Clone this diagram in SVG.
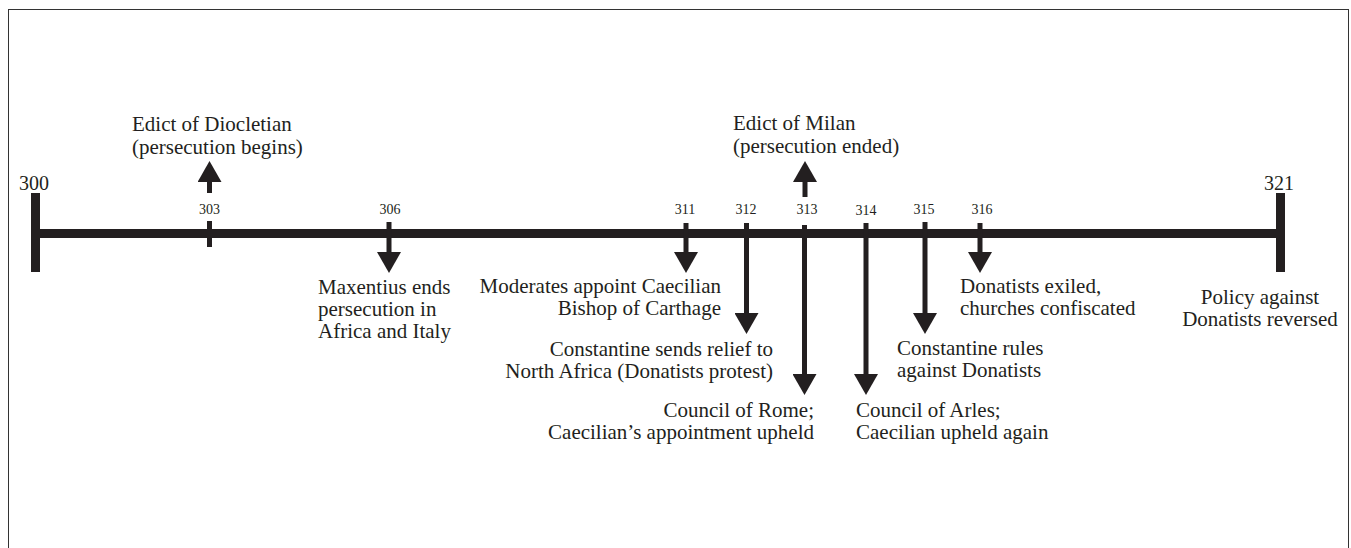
<svg xmlns="http://www.w3.org/2000/svg" width="1351" height="548" viewBox="0 0 1351 548">
<style>
  text { font-family: "Liberation Serif", "Times New Roman", serif; fill: #231f20; }
  .lbl { font-size: 21px; }
  .yr { font-size: 14px; text-anchor: middle; }
  .big { font-size: 20px; }
  .end { text-anchor: end; }
  .mid { text-anchor: middle; }
  .shaft { stroke: #231f20; stroke-width: 5; fill: none; }
  .bar { stroke: #231f20; stroke-width: 9; fill: none; }
</style>
<defs>
  <marker id="ah" viewBox="0 0 21 24" markerUnits="userSpaceOnUse" markerWidth="21" markerHeight="24" refX="0" refY="12" orient="auto">
    <path d="M0,0 L21,12 L0,24 z" fill="#231f20"/>
  </marker>
</defs>
<rect x="8.5" y="9.5" width="1340" height="560" fill="#fff" stroke="#333" stroke-width="1"/>

<g font-family="Liberation Serif, Times New Roman, serif">
<g id="timeline">
  <line class="bar" x1="35" y1="233.5" x2="1280" y2="233.5"/>
  <line class="bar" x1="35.5" y1="193" x2="35.5" y2="272"/>
  <line class="bar" x1="1280.5" y1="193" x2="1280.5" y2="272"/>
  <text class="big" x="19" y="190">300</text>
  <text class="big mid" x="1279" y="190">321</text>
</g>

<g id="connectors">
  <line class="shaft" x1="209.5" y1="221" x2="209.5" y2="247"/>
  <line class="shaft" x1="209.5" y1="193" x2="209.5" y2="182" marker-end="url(#ah)"/>
  <line class="shaft" x1="389" y1="222" x2="389" y2="252" marker-end="url(#ah)"/>
  <line class="shaft" x1="686" y1="223" x2="686" y2="252" marker-end="url(#ah)"/>
  <line class="shaft" x1="746.5" y1="223" x2="746.5" y2="313" marker-end="url(#ah)"/>
  <line class="shaft" x1="805" y1="197" x2="805" y2="182" marker-end="url(#ah)"/>
  <line class="shaft" x1="804.5" y1="225" x2="804.5" y2="374" marker-end="url(#ah)"/>
  <line class="shaft" x1="866" y1="223" x2="866" y2="374" marker-end="url(#ah)"/>
  <line class="shaft" x1="925" y1="222" x2="925" y2="313" marker-end="url(#ah)"/>
  <line class="shaft" x1="980" y1="223" x2="980" y2="252" marker-end="url(#ah)"/>
</g>

<g id="years">
  <text class="yr" x="209.5" y="214">303</text>
  <text class="yr" x="390" y="214">306</text>
  <text class="yr" x="685" y="214">311</text>
  <text class="yr" x="746" y="214">312</text>
  <text class="yr" x="807" y="214">313</text>
  <text class="yr" x="866" y="215">314</text>
  <text class="yr" x="924" y="214">315</text>
  <text class="yr" x="982" y="214">316</text>
</g>

<g id="e303">
  <text class="lbl" x="132" y="131">Edict of Diocletian</text>
  <text class="lbl" x="132" y="154">(persecution begins)</text>
</g>
<g id="e306">
  <text class="lbl" x="318" y="293.5">Maxentius ends</text>
  <text class="lbl" x="318" y="315.5">persecution in</text>
  <text class="lbl" x="318" y="337.5">Africa and Italy</text>
</g>
<g id="e311">
  <text class="lbl end" x="721" y="293">Moderates appoint Caecilian</text>
  <text class="lbl end" x="721" y="315">Bishop of Carthage</text>
</g>
<g id="e312">
  <text class="lbl end" x="773" y="355.5">Constantine sends relief to</text>
  <text class="lbl end" x="773" y="377.5">North Africa (Donatists protest)</text>
</g>
<g id="e313a">
  <text class="lbl" x="733" y="130">Edict of Milan</text>
  <text class="lbl" x="733" y="153">(persecution ended)</text>
</g>
<g id="e313b">
  <text class="lbl end" x="814" y="417">Council of Rome;</text>
  <text class="lbl end" x="814" y="439">Caecilian’s appointment upheld</text>
</g>
<g id="e314">
  <text class="lbl" x="856" y="417">Council of Arles;</text>
  <text class="lbl" x="856" y="439">Caecilian upheld again</text>
</g>
<g id="e315">
  <text class="lbl" x="897" y="354.5">Constantine rules</text>
  <text class="lbl" x="897" y="376.5">against Donatists</text>
</g>
<g id="e316">
  <text class="lbl" x="960" y="293">Donatists exiled,</text>
  <text class="lbl" x="960" y="315">churches confiscated</text>
</g>
<g id="e321">
  <text class="lbl mid" x="1260" y="303.5">Policy against</text>
  <text class="lbl mid" x="1260" y="325.5">Donatists reversed</text>
</g>
</g>
</svg>
